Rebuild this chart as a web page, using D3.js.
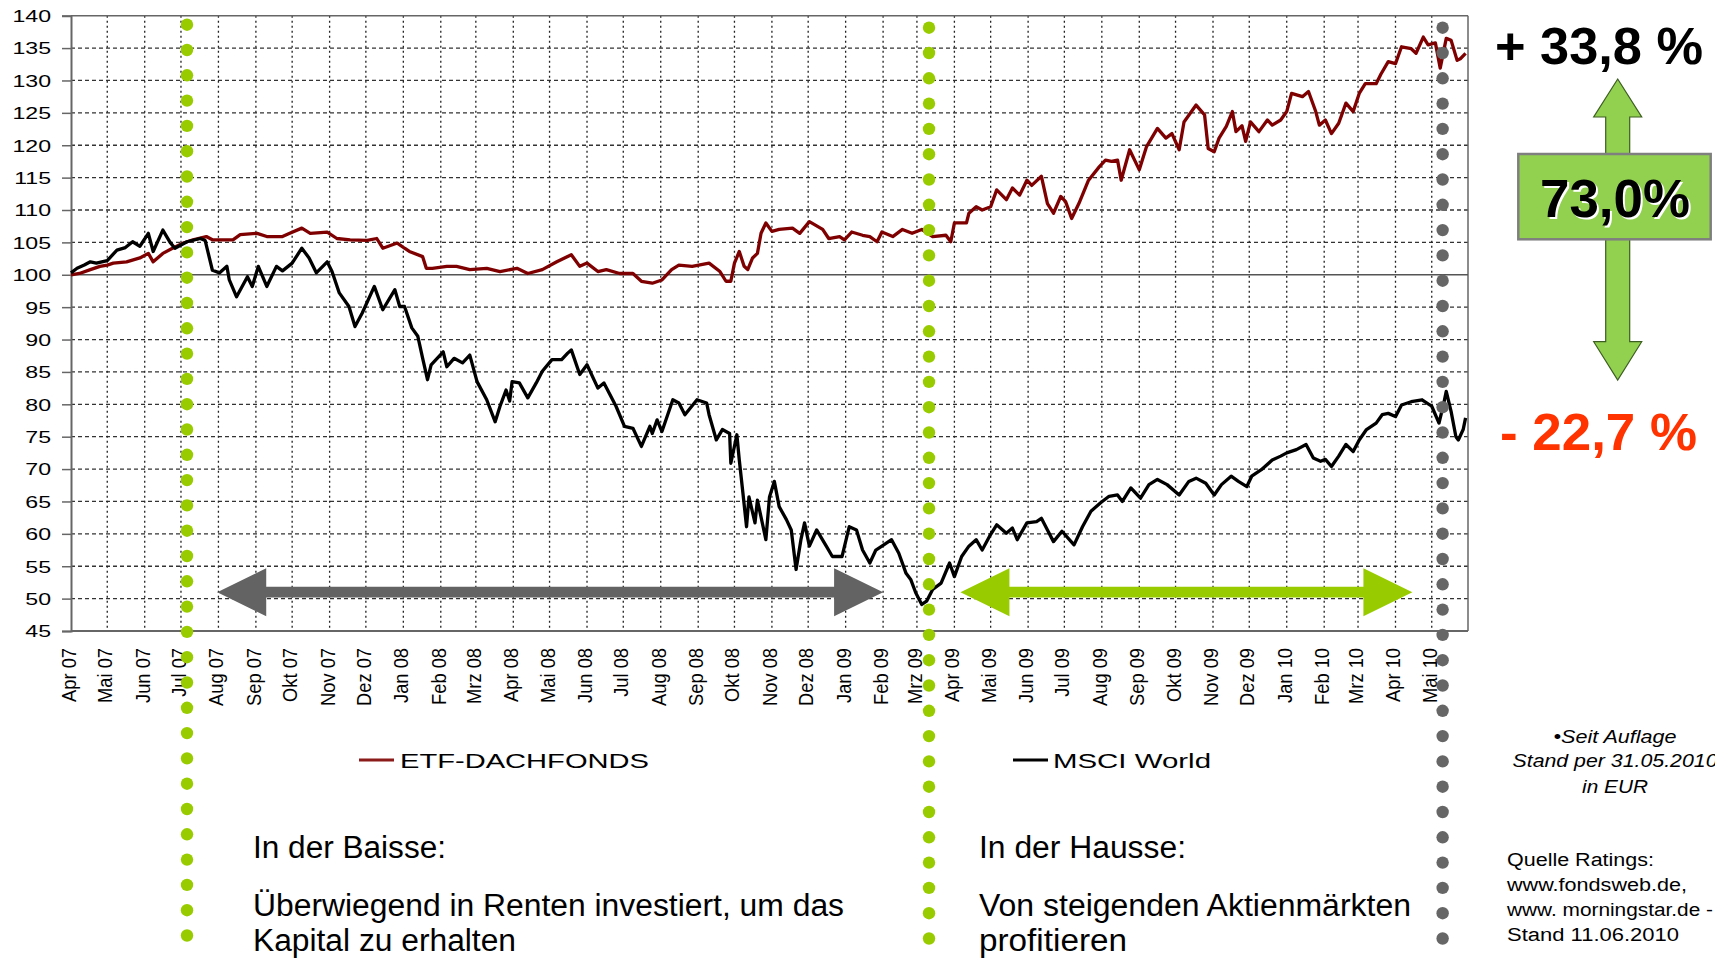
<!DOCTYPE html>
<html><head><meta charset="utf-8">
<script src="https://cdn.jsdelivr.net/npm/d3@7"></script>
<style>html,body{margin:0;padding:0;background:#fff;overflow:hidden}</style>
</head><body>
<svg id="c" width="1715" height="959"></svg>
<script>
// ---------- DATA ----------
const startDate = new Date(2007, 3, 1);
const endDate = new Date(2010, 4, 31);
const monthNames = ["Jan","Feb","Mrz","Apr","Mai","Jun","Jul","Aug","Sep","Okt","Nov","Dez"];
const yTicks = [45,50,55,60,65,70,75,80,85,90,95,100,105,110,115,120,125,130,135,140];
const seriesNames = ["ETF-DACHFONDS", "MSCI World"];
const seriesColors = ["#7f0000", "#000000"];

// days since 1 Apr 2007
const etfDays = [0,7,16,24,30,35,46,57,64,68,76,84,93,101,112,117,134,140,154,162,175,181,191,198,212,220,231,245,253,258,270,276,280,291,294,299,311,319,330,344,355,369,378,390,402,414,421,427,436,443,454,465,472,481,489,497,503,514,528,537,542,546,549,553,557,560,564,568,571,575,580,586,597,603,611,622,627,636,640,646,655,661,667,671,680,688,696,704,713,724,728,731,741,743,749,754,761,766,774,779,785,791,795,803,808,813,819,823,828,834,842,851,856,861,866,869,876,884,890,899,906,911,917,921,931,938,941,946,950,956,961,964,969,972,976,983,990,994,1001,1006,1010,1019,1024,1030,1033,1038,1043,1049,1055,1061,1066,1071,1080,1084,1090,1096,1101,1109,1113,1119,1123,1129,1133,1138,1142,1147,1150,1154];
const etfValues = [100.0,100.2,100.8,101.3,101.5,101.8,102.0,102.6,103.3,102.0,103.3,104.1,104.9,105.4,105.9,105.4,105.4,106.2,106.4,105.9,105.9,106.4,107.2,106.4,106.6,105.6,105.4,105.3,105.6,104.1,104.9,104.1,103.6,102.8,101.0,101.0,101.3,101.3,100.8,101.0,100.5,101.0,100.2,100.8,102.0,103.1,101.3,101.8,100.5,100.8,100.2,100.2,99.0,98.7,99.2,100.8,101.5,101.3,101.8,100.5,99.0,99.0,101.8,103.6,101.3,100.8,102.6,103.3,106.4,108.0,106.7,107.0,107.2,106.4,108.2,107.0,105.6,105.9,105.4,106.6,106.1,105.9,105.1,106.6,105.9,107.0,106.4,107.0,105.9,106.1,105.1,108.0,108.0,109.5,110.5,110.0,110.5,113.1,111.6,113.4,112.3,114.6,113.8,115.2,111.0,109.5,112.1,111.3,108.7,111.0,114.6,116.7,117.7,117.5,117.7,114.6,119.3,116.2,119.8,122.6,121.1,121.8,119.3,123.6,126.2,124.7,119.5,119.0,121.1,122.9,125.2,122.1,123.0,120.6,123.6,122.1,123.9,123.1,123.9,125.2,128.0,127.5,128.3,125.2,123.1,123.9,121.8,123.4,126.5,125.2,128.0,129.5,129.5,131.0,132.9,132.6,135.2,134.9,134.2,136.7,135.5,135.8,131.9,136.5,136.2,133.1,133.4,134.2];

const msciDays = [0,5,11,16,21,30,38,45,51,57,64,68,76,82,86,96,107,111,117,123,129,131,137,146,150,155,162,170,175,183,191,197,203,212,216,222,230,235,241,251,258,268,272,276,282,287,291,295,298,308,311,317,324,330,336,344,351,355,360,363,365,371,378,385,390,398,406,411,414,421,427,436,441,451,458,465,472,479,481,485,489,498,503,508,518,526,528,534,539,545,546,551,553,556,559,561,566,568,575,578,582,586,592,596,600,604,607,611,617,625,630,638,644,650,655,661,666,671,679,685,691,695,699,704,708,713,720,727,731,737,743,749,754,760,766,774,779,783,791,799,803,808,813,820,830,837,844,852,859,866,870,877,885,892,899,907,917,925,931,939,946,952,960,966,973,977,985,994,1001,1006,1014,1022,1028,1034,1038,1043,1049,1055,1061,1066,1072,1080,1085,1090,1096,1101,1109,1118,1126,1132,1136,1138,1142,1146,1148,1152,1154];
const msciValues = [100.3,101.0,101.5,102.0,101.8,102.2,103.8,104.2,105.1,104.4,106.4,103.6,106.9,105.0,104.1,105.1,105.6,105.3,100.7,100.3,101.3,99.2,96.6,99.7,98.2,101.3,98.2,101.3,100.6,101.8,104.1,102.6,100.3,102.0,100.5,97.2,95.1,92.0,94.1,98.2,94.6,97.7,95.1,95.1,91.8,90.5,87.1,83.8,86.1,88.1,85.8,87.1,86.4,87.6,83.5,80.7,77.3,79.7,82.2,80.5,83.5,83.3,81.0,83.3,85.1,86.9,86.9,87.9,88.4,84.6,86.1,82.5,83.3,79.7,76.6,76.3,73.5,76.6,75.5,77.6,75.8,80.7,80.2,78.4,80.7,80.2,78.4,74.5,76.1,75.5,70.9,75.3,71.4,66.3,61.1,65.7,61.7,65.2,59.1,65.7,68.1,64.2,62.2,60.6,54.5,59.1,61.7,58.1,60.6,58.1,56.5,56.5,61.1,60.6,57.5,55.5,57.5,58.1,59.1,57.0,53.9,52.9,50.9,49.1,49.6,51.4,52.4,55.5,53.4,56.5,58.1,59.1,57.5,59.6,61.4,60.1,60.9,59.1,61.7,61.9,62.4,60.6,58.8,60.4,58.3,61.1,63.5,64.8,65.8,66.0,65.0,67.1,65.5,67.6,68.4,67.6,66.0,68.1,68.6,67.8,66.0,67.6,68.9,68.1,67.3,68.9,69.9,71.4,72.0,72.5,73.0,73.8,71.7,71.2,71.5,70.4,72.0,73.8,72.7,74.5,76.1,77.1,78.4,78.6,78.1,79.9,80.4,80.7,79.7,77.1,80.2,82.0,78.9,75.0,74.5,76.1,77.9];

// annotation data
const phaseMarkerDates = ["2007-07-06", "2009-03-11", "2010-05-10"];
const phaseMarkerColors = ["#99cc00", "#99cc00", "#666666"];
const phaseArrowStart = ["2007-07-31", "2009-04-06"];
const phaseArrowEnd = ["2009-02-01", "2010-04-15"];
const phaseArrowColors = ["#636363", "#99cc00"];
const phaseArrowLevel = 51;
const perfEtf = "+ 33,8 %";
const perfMsci = "- 22,7 %";
const perfDiff = "73,0%";

// ---------- CHART ----------
const FONT = "'Liberation Sans', Arial, Helvetica, sans-serif";
const M = {left: 71, right: 1468, top: 15.7, bottom: 631};
const svg = d3.select("#c").style("font-family", FONT);
const parse = d3.timeParse("%Y-%m-%d");
const x = d3.scaleTime().domain([startDate, endDate]).range([M.left, M.right]);
const y = d3.scaleLinear().domain([45, 140]).range([M.bottom, M.top]);
const dayDate = d => d3.timeDay.offset(startDate, d);
const months = d3.timeMonth.range(startDate, d3.timeDay.offset(endDate, 1));

// grid
const g = svg.append("g");
g.selectAll("line.h").data(yTicks.filter(v => v > 45 && v < 140 && v !== 100)).join("line")
  .attr("x1", M.left).attr("x2", M.right).attr("y1", d => y(d)).attr("y2", d => y(d))
  .attr("stroke", "#333").attr("stroke-width", 1.3).attr("stroke-dasharray", "4,3");
g.selectAll("line.v").data(months.slice(1)).join("line")
  .attr("x1", d => x(d)).attr("x2", d => x(d)).attr("y1", M.top).attr("y2", M.bottom)
  .attr("stroke", "#222").attr("stroke-width", 1.3).attr("stroke-dasharray", "2,3");

// frame
g.append("line").attr("x1", M.left).attr("x2", M.right).attr("y1", M.top).attr("y2", M.top).attr("stroke", "#666").attr("stroke-width", 1.5);
g.append("line").attr("x1", M.right).attr("x2", M.right).attr("y1", M.top).attr("y2", M.bottom).attr("stroke", "#666").attr("stroke-width", 1.5);
g.append("line").attr("x1", M.left).attr("x2", M.right).attr("y1", y(100)).attr("y2", y(100)).attr("stroke", "#555").attr("stroke-width", 1.5);

// y axis
const yAxis = svg.append("g").attr("transform", `translate(${M.left},0)`)
  .call(d3.axisLeft(y).tickValues(yTicks).tickSize(9).tickFormat(d3.format("d")));
yAxis.select(".domain").attr("stroke", "#666").attr("stroke-width", 2);
yAxis.selectAll(".tick line").attr("stroke", "#666").attr("stroke-width", 1.5);
yAxis.selectAll(".tick text").attr("x", null).attr("dy", "0.36em")
  .attr("transform", "translate(-20,0) scale(1.42,1)")
  .attr("font-size", 16.3).attr("font-family", FONT).attr("fill", "#000");

// x axis line
svg.append("line").attr("x1", M.left).attr("x2", M.right).attr("y1", M.bottom).attr("y2", M.bottom).attr("stroke", "#666").attr("stroke-width", 2);
// x labels
svg.append("g").selectAll("text").data(months).join("text")
  .attr("transform", d => `translate(${x(d) + 5},648) rotate(-90) scale(1,1.15)`)
  .attr("text-anchor", "end").attr("font-size", 18.3).attr("fill", "#000")
  .text(d => monthNames[d.getMonth()] + " " + String(d.getFullYear()).slice(2));

// series
const line = d3.line().x(d => x(dayDate(d[0]))).y(d => y(d[1]));
const etf = d3.zip(etfDays, etfValues);
const msci = d3.zip(msciDays, msciValues);
[etf, msci].forEach((s, i) => {
  svg.append("path").datum(s).attr("d", line).attr("fill", "none")
    .attr("stroke", seriesColors[i]).attr("stroke-width", 3.3).attr("stroke-linejoin", "round");
});

// phase arrows
function hArrow(x1, x2, yc, color) {
  const hl = 49, hh = 24, sh = 5.3;
  const pts = [[x1,yc],[x1+hl,yc-hh],[x1+hl,yc-sh],[x2-hl,yc-sh],[x2-hl,yc-hh],[x2,yc],[x2-hl,yc+hh],[x2-hl,yc+sh],[x1+hl,yc+sh],[x1+hl,yc+hh]];
  svg.append("polygon").attr("points", pts.map(p => p.join(",")).join(" ")).attr("fill", color);
}
phaseArrowStart.forEach((s, i) => hArrow(x(parse(s)), x(parse(phaseArrowEnd[i])), y(phaseArrowLevel), phaseArrowColors[i]));

// legend
const leg = svg.append("g");
leg.append("line").attr("x1", 359).attr("x2", 394).attr("y1", 760).attr("y2", 760).attr("stroke", "#8b1a1a").attr("stroke-width", 3);
leg.append("text").attr("x", 400).attr("y", 768).attr("font-size", 21).attr("textLength", 249).attr("lengthAdjust", "spacingAndGlyphs").text(seriesNames[0]);
leg.append("line").attr("x1", 1013).attr("x2", 1048).attr("y1", 760).attr("y2", 760).attr("stroke", "#000").attr("stroke-width", 3);
leg.append("text").attr("x", 1053).attr("y", 768).attr("font-size", 21).attr("textLength", 158).attr("lengthAdjust", "spacingAndGlyphs").text(seriesNames[1]);

// explanatory text
function txt(str, xx, yy, size, w, opts = {}) {
  const t = svg.append("text").attr("x", xx).attr("y", yy).attr("font-size", size).text(str)
    .attr("fill", opts.fill || "#000");
  if (w) t.attr("textLength", w).attr("lengthAdjust", "spacingAndGlyphs");
  if (opts.anchor) t.attr("text-anchor", opts.anchor);
  if (opts.weight) t.attr("font-weight", opts.weight);
  if (opts.style) t.attr("font-style", opts.style);
  return t;
}
txt("In der Baisse:", 253, 858, 31, 193);
txt("Überwiegend in Renten investiert, um das", 253, 916, 31, 591);
txt("Kapital zu erhalten", 253, 950.5, 31, 263);
txt("In der Hausse:", 979, 858, 31, 207);
txt("Von steigenden Aktienmärkten", 979, 916, 31, 432);
txt("profitieren", 979, 950.5, 31, 148);

txt("•Seit Auflage", 1615, 743, 17.5, 123, {anchor: "middle", style: "italic"});
txt("Stand per 31.05.2010", 1615, 767, 17.5, 205, {anchor: "middle", style: "italic"});
txt("in EUR", 1615, 793, 17.5, 66, {anchor: "middle", style: "italic"});

txt("Quelle Ratings:", 1507, 866, 18, 147);
txt("www.fondsweb.de,", 1507, 891, 18, 180);
txt("www. morningstar.de -", 1507, 916, 18, 206);
txt("Stand 11.06.2010", 1507, 941, 18, 172);

// performance annotation
const cx = 1617.7;
const va = [[cx,79],[cx+24,117],[cx+12,117],[cx+12,341.7],[cx+24,341.7],[cx,380],[cx-24,341.7],[cx-12,341.7],[cx-12,117],[cx-24,117]];
svg.append("polygon").attr("points", va.map(p => p.join(",")).join(" "))
  .attr("fill", "#92d050").attr("stroke", "#3c5e20").attr("stroke-width", 1.2);
svg.append("rect").attr("x", 1518.3).attr("y", 154).attr("width", 192.4).attr("height", 85.3)
  .attr("fill", "#92d050").attr("stroke", "#7f7f7f").attr("stroke-width", 2.5);
txt(perfDiff, 1617, 219, 53, 150, {anchor: "middle", weight: "bold", fill: "#fff"});
txt(perfDiff, 1615, 217, 53, 150, {anchor: "middle", weight: "bold"});
txt(perfEtf, 1495, 64, 51, 208, {weight: "bold"});
txt(perfMsci, 1500, 450, 51, 197, {weight: "bold", fill: "#ff3300"});

// phase marker dots (on top)
phaseMarkerDates.forEach((d, i) => {
  const xx = x(parse(d));
  svg.append("g").selectAll("circle").data(d3.range(37)).join("circle")
    .attr("cx", xx).attr("cy", k => (i === 0 ? 24.7 : 27.7) + k * 25.3).attr("r", 6.2)
    .attr("fill", phaseMarkerColors[i]);
});
</script>
</body></html>
